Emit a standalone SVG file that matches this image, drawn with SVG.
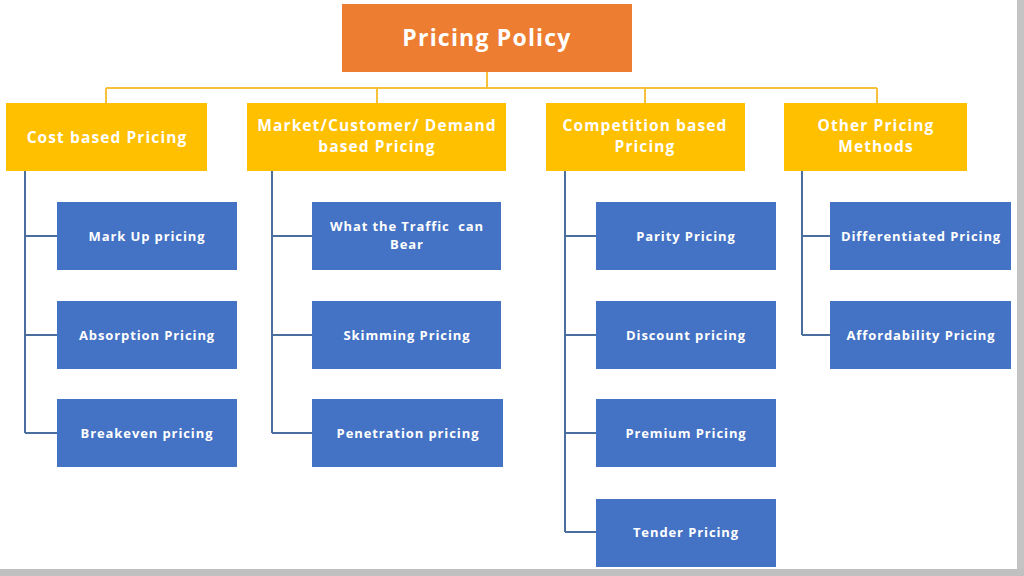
<svg xmlns="http://www.w3.org/2000/svg" width="1024" height="576" viewBox="0 0 1024 576">
<style>
.t{fill:#ffffff;font-family:"Open Sans","Liberation Sans",Arial,sans-serif;font-weight:bold;text-anchor:middle}
.title{font-size:23px;letter-spacing:1.2px}
.cat{font-size:15.5px;letter-spacing:1.1px}
.item{font-size:13px;letter-spacing:0.9px}
.y{fill:#FFC000}
.b{fill:#4472C4}
.yl{fill:none;stroke:#F7C23A;stroke-width:2}
.bl{fill:none;stroke:#4A6E9E;stroke-width:2}
</style>
<rect x="0" y="0" width="1024" height="576" fill="#ffffff"/>
<rect x="1017" y="0" width="7" height="576" fill="#c4c4c4"/>
<rect x="0" y="569" width="1024" height="7" fill="#c0c0c0"/>
<g id="connectors">
<path class="yl" d="M487 72V88M106 88H877M106 88V103M377 88V103M645 88V103M877 88V103"/>
<path class="bl" d="M25 171V433M25 236H57M25 335H57M25 433H57"/>
<path class="bl" d="M272 171V433M272 236H312M272 335H312M272 433H312"/>
<path class="bl" d="M565 171V532M565 236H596M565 335H596M565 433H596M565 532H596"/>
<path class="bl" d="M802 171V335M802 236H830M802 335H830"/>
</g>
<g id="pricing-policy"><rect x="342" y="4" width="290" height="68" fill="#ED7D31"/><text class="t title" x="487" y="46">Pricing Policy</text></g>
<g id="cost-based"><rect class="y" x="6" y="103" width="201" height="68"/><text class="t cat" x="107" y="143">Cost based Pricing</text></g>
<g id="market-based"><rect class="y" x="247" y="103" width="259" height="68"/><text class="t cat" x="377" y="131">Market/Customer/ Demand<tspan x="377" dy="21">based Pricing</tspan></text></g>
<g id="competition-based"><rect class="y" x="546" y="103" width="199" height="68"/><text class="t cat" x="645" y="131">Competition based<tspan x="645" dy="21">Pricing</tspan></text></g>
<g id="other-methods"><rect class="y" x="784" y="103" width="183" height="68"/><text class="t cat" x="876" y="131">Other Pricing<tspan x="876" dy="21">Methods</tspan></text></g>
<g id="mark-up"><rect class="b" x="57" y="202" width="180" height="68"/><text class="t item" x="147" y="241">Mark Up pricing</text></g>
<g id="absorption"><rect class="b" x="57" y="301" width="180" height="68"/><text class="t item" x="147" y="340">Absorption Pricing</text></g>
<g id="breakeven"><rect class="b" x="57" y="399" width="180" height="68"/><text class="t item" x="147" y="438">Breakeven pricing</text></g>
<g id="traffic"><rect class="b" x="312" y="202" width="189" height="68"/><text class="t item" x="407" y="231" xml:space="preserve">What the Traffic  can<tspan x="407" dy="18">Bear</tspan></text></g>
<g id="skimming"><rect class="b" x="312" y="301" width="189" height="68"/><text class="t item" x="407" y="340">Skimming Pricing</text></g>
<g id="penetration"><rect class="b" x="312" y="399" width="191" height="68"/><text class="t item" x="408" y="438">Penetration pricing</text></g>
<g id="parity"><rect class="b" x="596" y="202" width="180" height="68"/><text class="t item" x="686" y="241">Parity Pricing</text></g>
<g id="discount"><rect class="b" x="596" y="301" width="180" height="68"/><text class="t item" x="686" y="340">Discount pricing</text></g>
<g id="premium"><rect class="b" x="596" y="399" width="180" height="68"/><text class="t item" x="686" y="438">Premium Pricing</text></g>
<g id="tender"><rect class="b" x="596" y="499" width="180" height="68"/><text class="t item" x="686" y="537">Tender Pricing</text></g>
<g id="differentiated"><rect class="b" x="830" y="202" width="181" height="68"/><text class="t item" x="921" y="241">Differentiated Pricing</text></g>
<g id="affordability"><rect class="b" x="830" y="301" width="181" height="68"/><text class="t item" x="921" y="340">Affordability Pricing</text></g>
</svg>
